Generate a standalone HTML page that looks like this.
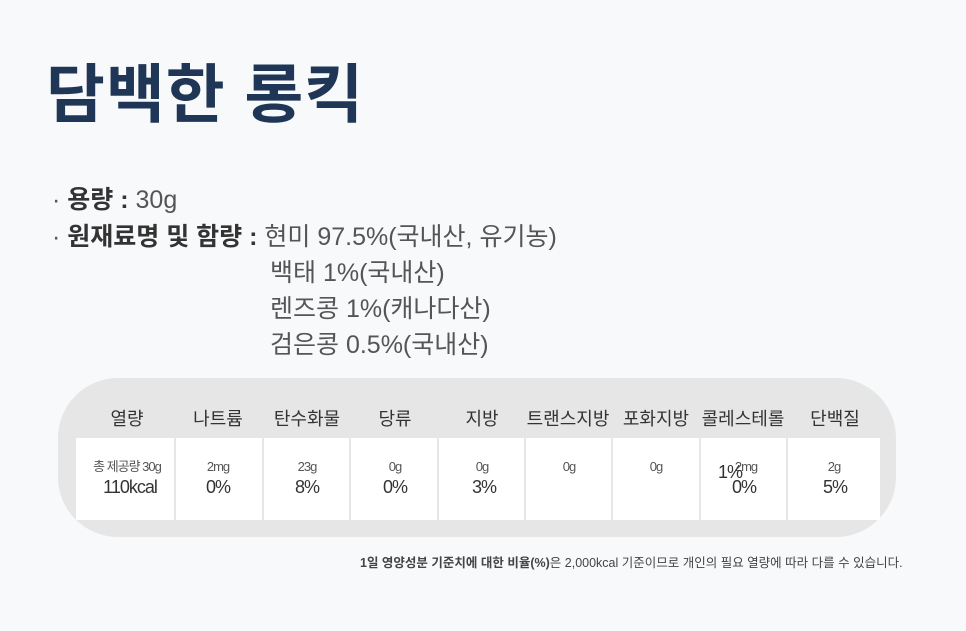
<!DOCTYPE html>
<html><head><meta charset="utf-8"><style>
body{margin:0;width:966px;height:631px;background:#f8f9fa;position:relative;overflow:hidden;font-family:"Liberation Sans","Noto Sans CJK KR",sans-serif;}
.a{position:absolute;white-space:nowrap;}
.t{left:46px;top:44px;font-size:64px;font-weight:bold;color:#1f3656;letter-spacing:1px;}
.l{font-size:25px;color:#555;}
.l b{color:#333;}
.box{left:58px;top:378px;width:838px;height:159px;background:#e6e6e6;border-radius:60px;}
.h{top:405px;font-size:18px;color:#333;transform:translateX(-50%);}
.c{top:438px;height:82px;background:#fff;}
.v{font-size:13px;color:#555;text-align:center;transform:translateX(-50%);top:460px;line-height:14px;letter-spacing:-1px;}
.p{font-size:18px;color:#333;text-align:center;transform:translateX(-50%);top:477px;letter-spacing:-1px;}
.f{left:360px;top:552px;font-size:12.5px;color:#444;letter-spacing:0px;}
</style></head><body>
<div class="a t">담백한 롱킥</div>
<div class="a l" style="left:52px;top:180px">· <b>용량 :</b> 30g</div>
<div class="a l" style="left:52px;top:217px">· <b>원재료명 및 함량 :</b> 현미 97.5%(국내산, 유기농)</div>
<div class="a l" style="left:270px;top:253px">백태 1%(국내산)</div>
<div class="a l" style="left:270px;top:289px">렌즈콩 1%(캐나다산)</div>
<div class="a l" style="left:270px;top:325px">검은콩 0.5%(국내산)</div>
<div class="a box"></div>
<div class="a c" style="left:76px;width:98px"></div>
<div class="a c" style="left:176px;width:86px"></div>
<div class="a c" style="left:264px;width:85px"></div>
<div class="a c" style="left:351px;width:86px"></div>
<div class="a c" style="left:439px;width:85px"></div>
<div class="a c" style="left:526px;width:85px"></div>
<div class="a c" style="left:613px;width:86px"></div>
<div class="a c" style="left:701px;width:85px"></div>
<div class="a c" style="left:788px;width:92px"></div>
<div class="a h" style="left:127px">열량</div>
<div class="a h" style="left:218px">나트륨</div>
<div class="a h" style="left:307px">탄수화물</div>
<div class="a h" style="left:395px">당류</div>
<div class="a h" style="left:482px">지방</div>
<div class="a h" style="left:568px">트랜스지방</div>
<div class="a h" style="left:656px">포화지방</div>
<div class="a h" style="left:743px">콜레스테롤</div>
<div class="a h" style="left:835px">단백질</div>
<div class="a v" style="left:127px">총 제공량 30g</div>
<div class="a p" style="left:130px">110kcal</div>
<div class="a v" style="left:218px">2mg</div><div class="a p" style="left:218px">0%</div>
<div class="a v" style="left:307px">23g</div><div class="a p" style="left:307px">8%</div>
<div class="a v" style="left:395px">0g</div><div class="a p" style="left:395px">0%</div>
<div class="a v" style="left:482px">0g</div><div class="a p" style="left:484px">3%</div>
<div class="a v" style="left:569px">0g</div>
<div class="a v" style="left:656px">0g</div>
<div class="a v" style="left:746px">2mg</div><div class="a p" style="left:744px">0%</div>
<div class="a p" style="left:730px;top:462px">1%</div>
<div class="a v" style="left:834px">2g</div><div class="a p" style="left:835px">5%</div>
<div class="a f"><b>1일 영양성분 기준치에 대한 비율(%)</b>은 2,000kcal 기준이므로 개인의 필요 열량에 따라 다를 수 있습니다.</div>
</body></html>
